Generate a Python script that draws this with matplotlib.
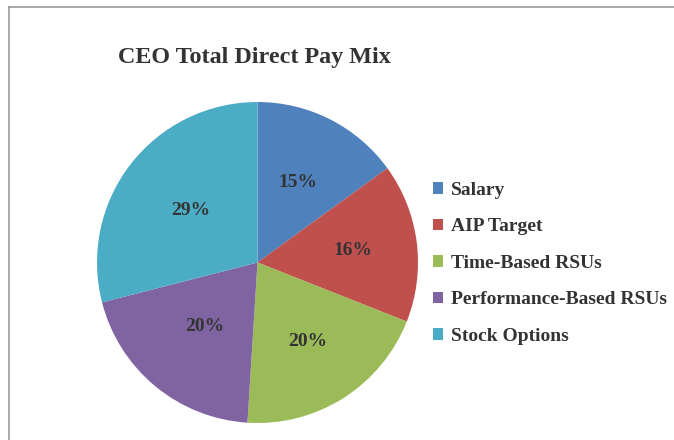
import numpy as np
import matplotlib.pyplot as plt
from matplotlib.lines import Line2D

# data
labels = ["Salary", "AIP Target", "Time-Based RSUs", "Performance-Based RSUs", "Stock Options"]
shares = [15, 16, 20, 20, 29]
colors = ["#4F81BD", "#C0504D", "#9BBB59", "#8064A2", "#4BACC6"]

# label distance from centre, per slice (as fraction of radius)
pct_dist = [0.56, 0.60, 0.58, 0.52, 0.53]

plt.rcParams['font.family'] = ['Liberation Serif', 'DejaVu Serif']

fig = plt.figure(figsize=(6.74, 4.40), dpi=100)
ax = fig.add_axes([97 / 674, 17 / 440, 321 / 674, 321 / 440])

wedges, texts, autotexts = ax.pie(
    shares, colors=colors, startangle=90, counterclock=False,
    autopct="%d%%", pctdistance=0.56, radius=1,
    textprops=dict(fontsize=14, fontweight="bold", color="#333333"),
)
for w, t, d in zip(wedges, autotexts, pct_dist):
    mid = np.deg2rad((w.theta1 + w.theta2) / 2)
    t.set_position((d * np.cos(mid), d * np.sin(mid)))
ax.set_xlim(-1, 1)
ax.set_ylim(-1, 1)
ax.set_aspect("equal")

fig.text(118 / 674, 1 - 57 / 440, "CEO Total Direct Pay Mix", fontsize=17.4,
         fontweight="bold", color="#333333", va="center", ha="left")

leg = fig.legend(wedges, labels, loc="upper left", bbox_to_anchor=(433 / 674, 1 - 182 / 440),
                 frameon=False, borderpad=0, borderaxespad=0,
                 handlelength=0.52, handleheight=0.55, handletextpad=0.42,
                 labelspacing=1.0, prop=dict(size=14, weight="bold"))
for t in leg.get_texts():
    t.set_color("#333333")

# chart border (top and left edges visible)
fig.add_artist(Line2D([8.5 / 674, 1], [1 - 7.5 / 440, 1 - 7.5 / 440], color="#9a9a9a", lw=1.2))
fig.add_artist(Line2D([8.5 / 674, 8.5 / 674], [0, 1 - 7.5 / 440], color="#9a9a9a", lw=1.2))

fig.savefig("out.png", dpi=100)
